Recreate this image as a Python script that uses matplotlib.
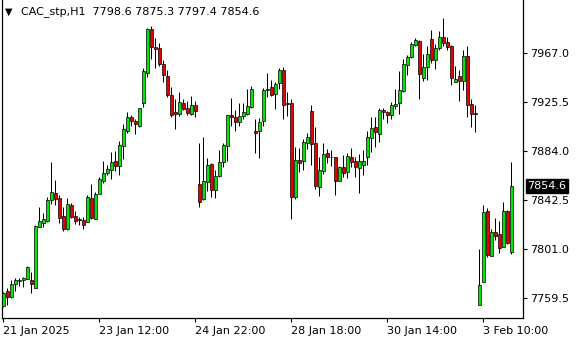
import matplotlib.pyplot as plt
import numpy as np

# H1 candles, CAC_stp, 21 Jan - 3 Feb 2025
opens = [7753.0, 7765.7, 7760.9, 7771.3, 7773.9, 7775.0, 7776.1, 7774.7, 7768.5, 7820.2,
         7823.6, 7825.0, 7842.5, 7848.4, 7844.2, 7829.2, 7818.5, 7838.5, 7828.9, 7826.7,
         7825.8, 7824.4, 7844.2, 7826.9, 7848.1, 7858.8, 7865.6, 7867.9, 7875.5, 7871.8,
         7888.8, 7901.5, 7912.8, 7909.7, 7905.4, 7924.6, 7950.0, 7987.3, 7972.6, 7971.2,
         7957.9, 7947.5, 7931.4, 7917.3, 7915.9, 7924.6, 7920.4, 7915.9, 7922.9,
         7856.0, 7843.3, 7858.3, 7873.0, 7851.2, 7863.1, 7874.7, 7888.8, 7914.5, 7912.8,
         7909.1, 7914.2, 7915.9, 7921.8, 7900.8, 7901.5, 7910.0, 7936.0, 7938.2, 7932.2,
         7941.6, 7952.9, 7924.9, 7924.6, 7845.0, 7876.4, 7875.5, 7891.3, 7918.1, 7890.8,
         7854.0, 7867.6, 7882.6, 7879.5, 7879.2, 7859.1, 7870.7, 7866.8, 7879.2, 7875.8,
         7869.6, 7872.7, 7878.9, 7895.0, 7904.3, 7898.4, 7919.0, 7917.0, 7914.5, 7922.4,
         7924.6, 7934.8, 7957.4, 7963.6, 7974.3, 7977.2, 7946.4, 7955.1, 7978.9, 7961.6,
         7971.2, 7980.5, 7976.3, 7972.9, 7942.7, 7947.5, 7943.9, 7964.5, 7923.8, 7916.2,
         7753.6, 7773.1, 7833.2, 7795.6, 7815.4, 7813.7, 7802.7, 7833.5, 7798.6]
highs = [7765.1, 7768.5, 7775.0, 7777.0, 7776.7, 7777.8, 7786.6, 7781.8, 7821.6, 7837.1,
         7832.0, 7845.6, 7874.9, 7859.7, 7847.0, 7836.5, 7844.4, 7840.5, 7833.2, 7828.6,
         7828.1, 7846.7, 7856.3, 7849.8, 7862.0, 7875.5, 7872.1, 7883.4, 7884.3, 7892.7,
         7907.1, 7917.0, 7914.7, 7911.4, 7920.9, 7954.3, 7988.1, 7990.1, 7979.7, 7975.4,
         7961.3, 7952.9, 7938.2, 7928.3, 7934.2, 7928.3, 7926.6, 7930.8, 7926.6,
         7890.8, 7895.8, 7878.3, 7874.4, 7867.9, 7885.1, 7890.8, 7914.5, 7929.2, 7919.0,
         7924.9, 7924.9, 7936.8, 7939.3, 7911.4, 7911.9, 7937.3, 7950.3, 7944.1, 7942.7,
         7954.5, 7955.4, 7934.2, 7928.3, 7887.9, 7887.1, 7894.4, 7899.2, 7923.2, 7904.6,
         7879.2, 7891.0, 7885.7, 7885.1, 7879.2, 7871.8, 7880.9, 7882.3, 7886.5, 7879.5,
         7881.4, 7885.1, 7901.2, 7913.0, 7913.0, 7920.7, 7920.7, 7918.2, 7925.8, 7936.8,
         7952.1, 7962.2, 7965.6, 7976.3, 7980.0, 7978.3, 7966.2, 7973.5, 7986.8, 7974.6,
         7986.2, 7996.9, 7981.1, 7974.3, 7956.0, 7952.9, 7969.8, 7973.2, 7928.3, 7923.0,
         7801.3, 7838.5, 7836.0, 7817.9, 7827.3, 7825.0, 7840.8, 7834.3, 7875.3]
lows = [7751.9, 7753.8, 7759.5, 7766.0, 7770.2, 7769.4, 7775.6, 7764.3, 7768.5, 7820.2,
        7820.2, 7824.1, 7839.1, 7838.5, 7823.0, 7816.5, 7817.1, 7827.8, 7822.4, 7821.9,
        7818.5, 7823.9, 7826.4, 7826.4, 7847.6, 7856.9, 7863.6, 7860.8, 7867.6, 7863.9,
        7877.8, 7899.2, 7905.7, 7898.7, 7904.9, 7921.2, 7946.6, 7961.9, 7954.8, 7956.2,
        7943.0, 7930.3, 7913.3, 7903.2, 7914.2, 7918.7, 7914.7, 7915.0, 7913.3,
        7837.1, 7842.8, 7850.4, 7845.6, 7844.7, 7862.0, 7871.0, 7876.1, 7905.4, 7901.5,
        7905.7, 7911.6, 7914.7, 7920.4, 7882.3, 7878.0, 7905.4, 7930.0, 7930.8, 7920.1,
        7936.5, 7911.1, 7913.9, 7826.9, 7843.3, 7866.2, 7868.2, 7886.2, 7872.4, 7852.4,
        7846.4, 7864.8, 7873.8, 7871.8, 7847.3, 7864.5, 7861.9, 7861.1, 7871.0, 7861.9,
        7849.0, 7863.9, 7872.4, 7883.7, 7887.9, 7892.2, 7911.1, 7907.7, 7911.7, 7920.1,
        7915.3, 7934.3, 7948.6, 7963.3, 7973.2, 7928.3, 7943.9, 7944.4, 7959.1, 7953.7,
        7969.8, 7973.2, 7969.8, 7940.5, 7942.7, 7926.9, 7936.0, 7912.8, 7904.9, 7900.7,
        7753.6, 7773.1, 7794.8, 7795.4, 7808.9, 7797.6, 7802.7, 7805.2, 7797.4]
closes = [7764.3, 7760.9, 7771.3, 7774.7, 7775.0, 7776.7, 7785.7, 7771.9, 7820.7, 7825.0,
          7826.7, 7842.8, 7849.5, 7843.6, 7827.8, 7817.9, 7839.1, 7828.6, 7825.3, 7825.5,
          7821.3, 7845.3, 7827.2, 7847.8, 7860.5, 7865.3, 7869.0, 7874.7, 7871.8, 7889.1,
          7902.9, 7912.8, 7910.0, 7906.8, 7920.4, 7952.0, 7987.3, 7972.6, 7970.9, 7958.2,
          7948.3, 7932.0, 7915.0, 7915.9, 7925.8, 7920.1, 7916.7, 7922.9, 7918.4,
          7841.3, 7858.6, 7872.4, 7851.2, 7862.8, 7874.7, 7889.3, 7914.5, 7913.3, 7909.1,
          7914.2, 7917.0, 7922.4, 7936.8, 7899.8, 7908.5, 7935.6, 7936.8, 7931.4, 7940.7,
          7952.9, 7922.9, 7924.3, 7845.0, 7876.4, 7874.4, 7891.6, 7896.1, 7890.5, 7854.9,
          7867.9, 7881.4, 7879.5, 7878.9, 7859.1, 7870.7, 7865.9, 7880.0, 7875.2, 7871.0,
          7875.8, 7875.8, 7895.8, 7903.5, 7900.1, 7919.0, 7917.0, 7915.1, 7922.9, 7924.4,
          7935.7, 7958.0, 7963.6, 7974.9, 7978.0, 7949.2, 7955.1, 7966.4, 7961.6, 7971.2,
          7980.5, 7976.0, 7972.1, 7945.8, 7945.5, 7943.9, 7964.5, 7923.5, 7915.3, 7915.3,
          7770.5, 7832.3, 7796.2, 7815.4, 7812.6, 7802.4, 7833.2, 7806.7, 7854.6]

y_ticks = [7759.5, 7801.0, 7842.5, 7884.0, 7925.5, 7967.0]
x_tick_bars = [0, 24, 48, 72, 96, 120]
x_tick_labels = ['21 Jan 2025', '23 Jan 12:00', '24 Jan 22:00',
                 '28 Jan 18:00', '30 Jan 14:00', '3 Feb 10:00']
symbol = 'CAC_stp,H1'

W, H = 580, 340
fig = plt.figure(figsize=(W / 100, H / 100), dpi=100)
fig.patch.set_facecolor('white')
# plot frame in pixels: x 2..523, y 0..318
ax = fig.add_axes([2 / W, (H - 318) / H, 521 / W, 318 / H])
ax.set_xlim(-0.325, 129.9)
ax.set_ylim(7742.8, 8012.1)

o = np.array(opens)
h = np.array(highs)
l = np.array(lows)
c = np.array(closes)
idx = np.arange(len(o))
up = c >= o
bot = np.minimum(o, c)
top = np.maximum(o, c)
body_col = np.where(up, '#00e600', '#e60000')

# wicks
ax.vlines(idx, l, h, color='black', linewidth=0.72, zorder=2)
# bodies: coloured fill with a thin black outline
ax.bar(idx, top - bot, bottom=bot, width=0.66, color=body_col,
       edgecolor='black', linewidth=0.5, zorder=3)

for s in ['left', 'right', 'bottom']:
    ax.spines[s].set_linewidth(0.9)
ax.spines['top'].set_visible(False)

ax.yaxis.tick_right()
ax.set_yticks(y_ticks)
ax.set_yticklabels([f'{v:.1f}' for v in y_ticks])
ax.tick_params(axis='y', length=3, width=0.8, pad=2, labelsize=8, colors='black')
ax.set_xticks(x_tick_bars)
ax.set_xticklabels(x_tick_labels, ha='left')
ax.tick_params(axis='x', length=3, width=0.8, pad=3, labelsize=8, colors='black')

# current price marker
ax.annotate(f'{closes[-1]:.1f}', xy=(1.0, closes[-1]), xycoords=('axes fraction', 'data'),
            xytext=(3, 0), textcoords='offset points', ha='left', va='center',
            fontsize=8, color='white',
            bbox=dict(boxstyle='square,pad=0.15', fc='black', ec='black'),
            annotation_clip=False)

fig.text(5 / W, 1 - 12 / H, '\u25bc', fontsize=7, va='center', ha='left')
fig.text(21 / W, 1 - 12 / H,
         f'{symbol}  {opens[-1]:.1f} {highs[-1]:.1f} {lows[-1]:.1f} {closes[-1]:.1f}',
         fontsize=8, va='center', ha='left')

fig.savefig('out.png', dpi=100)
